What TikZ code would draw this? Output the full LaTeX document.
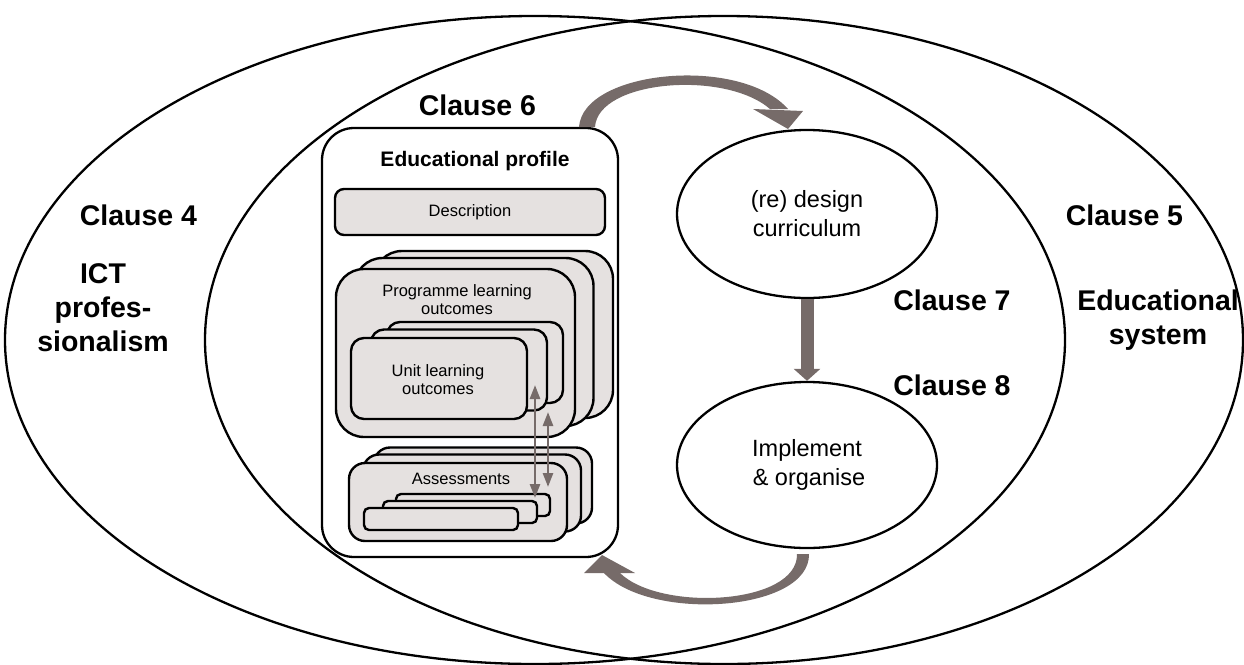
\documentclass[tikz,border=0pt]{standalone}
\usepackage{fontspec}
\setmainfont{Liberation Sans}
\usetikzlibrary{shapes.geometric,arrows.meta}
\definecolor{arrowgray}{RGB}{118,107,105}
\definecolor{boxgray}{RGB}{229,225,224}
\begin{document}
\begin{tikzpicture}[x=1pt,y=-1pt,
  big/.style={font=\fontsize{28.5}{34}\selectfont\bfseries, align=center, inner sep=0pt},
  small/.style={font=\fontsize{16.5}{18}\selectfont, align=center, inner sep=0pt},
  gbox/.style={draw=black, line width=2.4pt, fill=boxgray, rounded corners=#1, inner sep=0pt},
  oval/.style={draw=black, line width=2.3pt, ellipse, inner sep=0pt, fill=white,
    font=\fontsize{23.5}{29}\selectfont, align=center},
  bigoval/.style={draw=black, line width=2.3pt, ellipse, inner sep=0pt},
  dbl/.style={draw=arrowgray, line width=2.6pt,
    {Triangle[width=10pt,length=14pt]}-{Triangle[width=10pt,length=14pt]}}
]
\useasboundingbox (0,0) rectangle (1244,664);

% the two large domains
\node[bigoval, minimum width=1060pt, minimum height=648pt] (dom4) at (535,340) {};
\node[bigoval, minimum width=1038pt, minimum height=648pt] (dom5) at (724,340) {};

% labels of the domains
\node[big] (c4) at (138.5,215) {Clause 4};
\node[big] (ict) at (103,308) {ICT\\profes-\\sionalism};
\node[big] (c5) at (1124.5,215) {Clause 5};
\node[big] (edsys) at (1158,320) {Educational\\system};
\node[big] (c6) at (477.5,105) {Clause 6};
\node[big] (c7) at (952,300) {Clause 7};
\node[big] (c8) at (952,385) {Clause 8};

% educational profile
\node[draw=black, line width=2.3pt, fill=white, rounded corners=32pt,
  minimum width=296pt, minimum height=429pt, inner sep=0pt] (profile) at (470,342.5) {};
\node[font=\fontsize{21}{24}\selectfont\bfseries, inner sep=0pt] (eptitle) at (475,161) {Educational profile};

\node[gbox=9pt, minimum width=270pt, minimum height=46pt, small] (desc) at (470,212) {Description};

% programme learning outcomes stack
\node[gbox=28pt, minimum width=239pt, minimum height=167pt] (prog3) at (493.5,334.5) {};
\node[gbox=28pt, minimum width=239pt, minimum height=168pt] (prog2) at (474,342) {};
\node[gbox=28pt, minimum width=239pt, minimum height=168pt] (prog1) at (455.5,353) {};
\node[small] (progtext) at (457,300) {Programme learning\\outcomes};

% unit learning outcomes stack
\node[gbox=13pt, minimum width=176pt, minimum height=81pt] (unit3) at (475,362.5) {};
\node[gbox=13pt, minimum width=176pt, minimum height=81pt] (unit2) at (459,370) {};
\node[gbox=13pt, minimum width=176pt, minimum height=81pt] (unit1) at (439,378.5) {};
\node[small] (unittext) at (438,380) {Unit learning\\outcomes};

% assessments stack
\node[gbox=16pt, minimum width=218pt, minimum height=76pt] (ass3) at (483,485.5) {};
\node[gbox=16pt, minimum width=218pt, minimum height=77pt] (ass2) at (472,493) {};
\node[gbox=16pt, minimum width=218pt, minimum height=78pt] (ass1) at (458,502) {};
\node[small] (asstext) at (461,479) {Assessments};
\node[gbox=5pt, minimum width=154pt, minimum height=22pt] (bar3) at (473,505) {};
\node[gbox=5pt, minimum width=154pt, minimum height=22pt] (bar2) at (460,512) {};
\node[gbox=5pt, minimum width=154pt, minimum height=22pt] (bar1) at (441,519) {};

% links between unit outcomes and assessments
\coordinate (u2a) at (535,385);
\coordinate (a2u) at (535,498);
\coordinate (p2a) at (548,412);
\coordinate (a2p) at (548,487);
\draw[dbl] (u2a) -- (a2u);
\draw[dbl] (p2a) -- (a2p);

% process ellipses
\node[oval, minimum width=260pt, minimum height=168pt] (design) at (807,214) {(re) design\\curriculum};
\node[oval, minimum width=260pt, minimum height=166pt] (impl) at (807,465) {Implement\\\,\& organise};

\draw[arrowgray, line width=13pt, -{Triangle[width=26pt,length=12pt]}] (design.south) -- (impl.north);

% curved arrow: profile -> design
\fill[arrowgray] (579,127) .. controls (583,70) and (740,55) .. (788,109)
  -- (770,109) .. controls (725,70) and (598,80) .. (595,127) -- cycle;
\fill[arrowgray] (753,109) -- (803,111) -- (788,129) -- cycle;

% curved arrow: implement -> profile
\fill[arrowgray] (809,554) .. controls (810,612) and (650,622) .. (604,573)
  -- (620,573) .. controls (660,612) and (798,605) .. (797,554) -- cycle;
\fill[arrowgray] (584,573) -- (635,573) -- (602,555) -- cycle;
\end{tikzpicture}
\end{document}
